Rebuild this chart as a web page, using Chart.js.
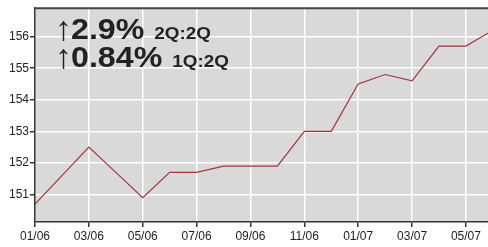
<!DOCTYPE html>
<html>
<head>
<meta charset="utf-8">
<script src="https://cdn.jsdelivr.net/npm/chart.js@4/dist/chart.umd.min.js"></script>
<style>
  html, body { margin: 0; padding: 0; background: #fff; }
  #wrap { width: 488px; height: 247px; }
</style>
</head>
<body>
<div id="wrap"><canvas id="cpiChart"></canvas></div>
<script>
const months = ['01/06', '02/06', '03/06', '04/06', '05/06', '06/06', '07/06', '08/06', '09/06',
                '10/06', '11/06', '12/06', '01/07', '02/07', '03/07', '04/07', '05/07', '06/07'];
const values = [150.7, 151.6, 152.5, 151.7, 150.9, 151.7, 151.7, 151.9, 151.9,
                151.9, 153.0, 153.0, 154.5, 154.8, 154.6, 155.7, 155.7, 156.2];
const yTicks = [151, 152, 153, 154, 155, 156];
const headline = [
    { big: '2.9%', small: '2Q:2Q' },
    { big: '0.84%', small: '1Q:2Q' }
];

const plotDecor = {
    id: 'plotDecor',
    beforeDraw(chart) {
        const a = chart.chartArea, c = chart.ctx;
        c.save();
        c.fillStyle = '#d9d9d9';
        c.fillRect(a.left, a.top, a.right - a.left, a.bottom - a.top);
        c.restore();
    },
    afterDraw(chart) {
        const a = chart.chartArea, c = chart.ctx;
        c.save();
        c.strokeStyle = '#444';
        c.lineWidth = 2;
        c.beginPath();
        c.moveTo(a.left, a.top);
        c.lineTo(a.right, a.top);
        c.stroke();
        c.restore();

        // headline text, a bit wider than Liberation Sans
        const sx = 1.11;
        c.save();
        c.fillStyle = '#222';
        c.textBaseline = 'alphabetic';
        headline.forEach(function(h, i) {
            const y = 39 + i * 28;
            c.save();
            c.translate(55, y);
            c.font = '34px "Liberation Sans", Arial, sans-serif';
            c.fillText('\u2191', 0, 1);
            c.translate(16, 0);
            c.scale(sx, 1);
            c.font = 'bold 29px "Liberation Sans", Arial, sans-serif';
            c.fillText(h.big, 0, 0);
            const w = c.measureText(h.big).width;
            c.font = 'bold 17px "Liberation Sans", Arial, sans-serif';
            c.fillText(h.small, w + 9, 0);
            c.restore();
        });
        c.restore();
    }
};

const ctx = document.getElementById('cpiChart').getContext('2d');
new Chart(ctx, {
    type: 'line',
    data: {
        datasets: [{
            data: values.map((v, i) => ({ x: i, y: v })),
            borderColor: '#a8323c',
            borderWidth: 1.2,
            pointRadius: 0,
            tension: 0,
            clip: 0
        }]
    },
    options: {
        responsive: true,
        maintainAspectRatio: false,
        animation: false,
        layout: { padding: { top: 4, right: 0, left: 0, bottom: 0 } },
        plugins: { legend: { display: false }, tooltip: { enabled: false } },
        scales: {
            x: {
                type: 'linear',
                min: 0,
                max: 16.82,
                afterBuildTicks: function(axis) {
                    axis.ticks = months.map((m, i) => ({ value: i })).filter(t => t.value % 2 === 0);
                },
                afterFit: function(axis) { axis.height = 25; },
                grid: { color: '#ffffff', lineWidth: 1.5, tickColor: '#333', tickLength: 5 },
                border: { color: '#333', width: 1.5 },
                ticks: {
                    autoSkip: false,
                    maxRotation: 0,
                    padding: 2,
                    color: '#222',
                    font: { family: '"Liberation Sans", Arial, sans-serif', size: 12 },
                    callback: function(value) { return months[value]; }
                }
            },
            y: {
                min: 150.13,
                max: 156.9,
                afterBuildTicks: function(axis) {
                    axis.ticks = yTicks.map(v => ({ value: v }));
                },
                afterFit: function(axis) { axis.width = 35; },
                grid: { color: '#ffffff', lineWidth: 1.5, tickColor: '#333', tickLength: 5 },
                border: { color: '#333', width: 1.5 },
                ticks: {
                    padding: 1,
                    color: '#222',
                    font: { family: '"Liberation Sans", Arial, sans-serif', size: 12 }
                }
            }
        }
    },
    plugins: [plotDecor]
});
</script>
</body>
</html>
